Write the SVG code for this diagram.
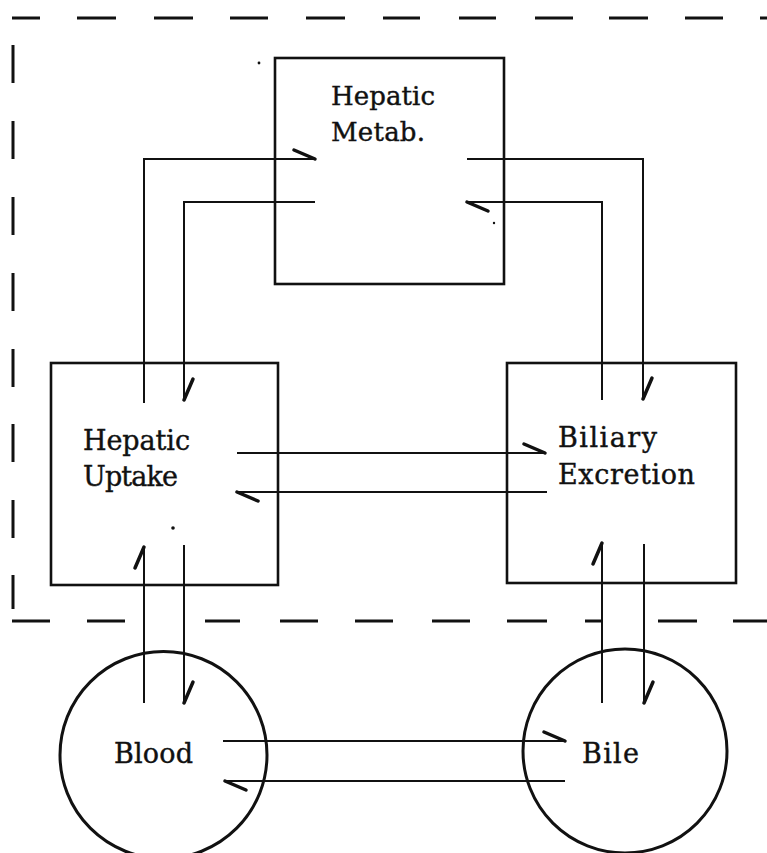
<svg xmlns="http://www.w3.org/2000/svg" width="767" height="853" viewBox="0 0 767 853">
<style>
.frame{fill:none;stroke:#111;stroke-width:3;stroke-linecap:butt}
.box{fill:none;stroke:#111;stroke-width:2.6}
.circ{fill:none;stroke:#111;stroke-width:3}
.conn{fill:none;stroke:#111;stroke-width:2}
.lbl{font-family:"DejaVu Serif","Liberation Serif",serif;font-size:26px;fill:#111;stroke:#111;stroke-width:0.4}
.lbl2{font-family:"DejaVu Serif","Liberation Serif",serif;font-size:27px;fill:#111;stroke:#111;stroke-width:0.4}
</style>
<defs>
<marker id="barb" markerUnits="userSpaceOnUse" markerWidth="30" markerHeight="30" refX="24" refY="15" orient="auto" viewBox="0 0 30 30">
<path d="M24,15 L3,6" fill="none" stroke="#111" stroke-width="3.5" stroke-linecap="round"/>
</marker>
</defs>
<rect width="767" height="853" fill="#fff"/>
<g id="frame">
<path class="frame" d="M12,18H40 M77,18H116 M154,18H193 M230,18H268 M306,18H345 M383,18H420 M459,18H496 M535,18H573 M609,18H648 M685,18H723 M760,18H767"/>
<path class="frame" d="M13,45V83 M13,121V159 M13,197V235 M13,273V311 M13,349V387 M13,424V462 M13,500V538 M13,575V609"/>
<path class="frame" d="M12,621H50 M87,621H125 M205,621H240 M280,621H318 M355,621H393 M432,621H470 M507,621H547 M585,621H602 M658,621H697 M733,621H767"/>
</g>
<g id="metab">
<rect class="box" x="275" y="58" width="229" height="226"/>
<text class="lbl" x="331" y="105" textLength="104" lengthAdjust="spacing">Hepatic</text>
<text class="lbl" x="331" y="141" textLength="94" lengthAdjust="spacing">Metab.</text>
</g>
<g id="uptake">
<rect class="box" x="51" y="363" width="227" height="222"/>
<text class="lbl2" x="83" y="450" textLength="107" lengthAdjust="spacing">Hepatic</text>
<text class="lbl2" x="83" y="486" textLength="95" lengthAdjust="spacing">Uptake</text>
</g>
<g id="biliary">
<rect class="box" x="507" y="363" width="229" height="220"/>
<text class="lbl2" x="558" y="447" textLength="99" lengthAdjust="spacing">Biliary</text>
<text class="lbl2" x="558" y="484" textLength="137" lengthAdjust="spacing">Excretion</text>
</g>
<g id="blood">
<circle class="circ" cx="163.5" cy="755" r="103.5"/>
<text class="lbl2" x="114" y="763" textLength="79" lengthAdjust="spacing">Blood</text>
</g>
<g id="bile">
<circle class="circ" cx="625" cy="751" r="102"/>
<text class="lbl2" x="582" y="763" textLength="57" lengthAdjust="spacing">Bile</text>
</g>
<g id="connectors">
<path class="conn" d="M144,403V159H315" marker-end="url(#barb)"/>
<path class="conn" d="M315,202H184V400" marker-end="url(#barb)"/>
<path class="conn" d="M467,159H643V399" marker-end="url(#barb)"/>
<path class="conn" d="M602,400V202H467" marker-end="url(#barb)"/>
<path class="conn" d="M237,453H545" marker-end="url(#barb)"/>
<path class="conn" d="M547,492H237" marker-end="url(#barb)"/>
<path class="conn" d="M144,703V547" marker-end="url(#barb)"/>
<path class="conn" d="M184,545V703" marker-end="url(#barb)"/>
<path class="conn" d="M602,703V543" marker-end="url(#barb)"/>
<path class="conn" d="M644,544V703" marker-end="url(#barb)"/>
<path class="conn" d="M223,741H565" marker-end="url(#barb)"/>
<path class="conn" d="M565,781H225" marker-end="url(#barb)"/>
</g>
<g id="specks" fill="#111">
<circle cx="259" cy="63" r="1.4"/>
<circle cx="494" cy="223" r="1.2"/>
<circle cx="173" cy="528" r="1.8"/>
</g>
</svg>
